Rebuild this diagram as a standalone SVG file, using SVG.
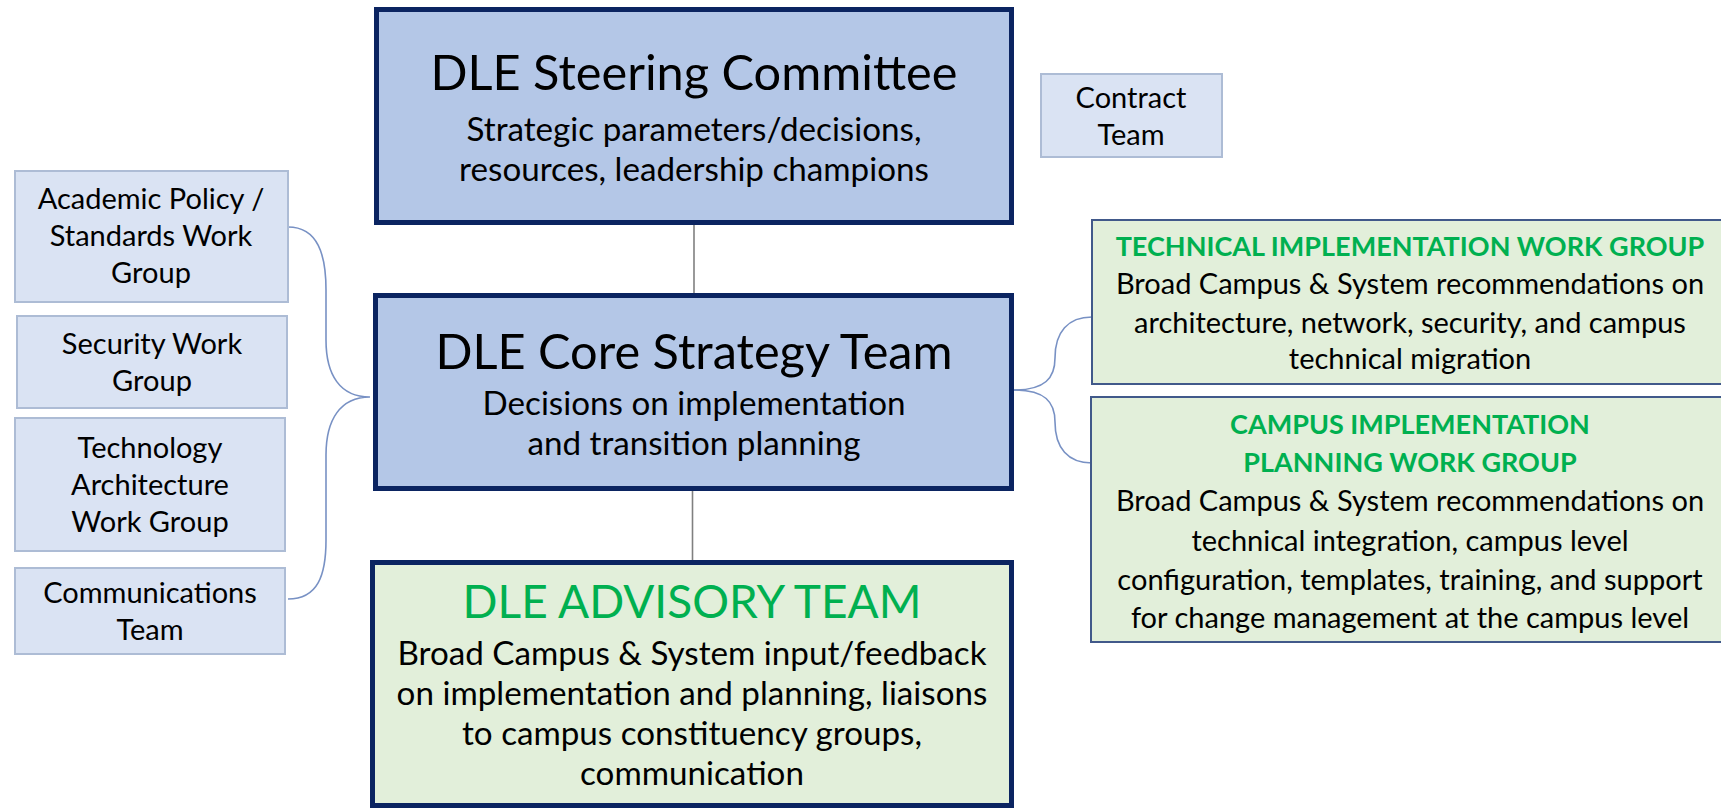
<svg xmlns="http://www.w3.org/2000/svg" width="1721" height="808" viewBox="0 0 1721 808">
  <style>
    text { font-family: Lato, "Open Sans", "Liberation Sans", sans-serif; text-anchor: middle; fill: #000; }
    .main { fill: #B4C7E7; stroke: #0B2461; stroke-width: 5; }
    .adv { fill: #E2EFDA; stroke: #0B2461; stroke-width: 5; }
    .side { fill: #DAE3F3; stroke: #ADBCD5; stroke-width: 2; }
    .grp { fill: #E2EFDA; stroke: #41598A; stroke-width: 2; }
    .title { font-size: 48.7px; }
    .caps { font-size: 46px; fill: #00B050; }
    .body { font-size: 33.2px; }
    .small { font-size: 29px; }
    .gtitle { font-size: 27px; font-weight: bold; fill: #00B050; }
    .trunk { stroke: #808080; stroke-width: 1.6; fill: none; }
    .brace { stroke: #7891C4; stroke-width: 1.6; fill: none; }
  </style>

  <!-- connectors -->
  <g id="connectors">
    <line class="trunk" x1="694" y1="225" x2="694" y2="293"/>
    <line class="trunk" x1="692.5" y1="491" x2="692.5" y2="560"/>
    <!-- left brace gathering the work groups -->
    <path class="brace" d="M288,227 C318,227 326,255 326,290 L326,340 C326,375 340,397 370,397 C340,397 326,420 326,455 L326,540 C326,575 318,599 288,599"/>
    <!-- right brace to the implementation groups -->
    <path class="brace" d="M1014,390 C1045,390 1055,378 1055,358 C1055,332 1068,317 1092,317"/>
    <path class="brace" d="M1014,390 C1045,390 1055,402 1055,422 C1055,448 1068,463 1092,463"/>
  </g>

  <!-- steering committee -->
  <g id="steering">
    <rect class="main" x="376.5" y="9.5" width="635" height="213"/>
    <text class="title" x="694" y="90">DLE Steering Committee</text>
    <text class="body" x="694" y="141">Strategic parameters/decisions,</text>
    <text class="body" x="694" y="181">resources, leadership champions</text>
  </g>

  <!-- contract team -->
  <g id="contract">
    <rect class="side" x="1041" y="74" width="181" height="83"/>
    <text class="small" x="1131" y="108">Contract</text>
    <text class="small" x="1131" y="145">Team</text>
  </g>

  <!-- core strategy team -->
  <g id="core">
    <rect class="main" x="375.5" y="295.5" width="636" height="193"/>
    <text class="title" x="694" y="369">DLE Core Strategy Team</text>
    <text class="body" x="694" y="415">Decisions on implementation</text>
    <text class="body" x="694" y="455">and transition planning</text>
  </g>

  <!-- advisory team -->
  <g id="advisory">
    <rect class="adv" x="372.5" y="562.5" width="639" height="243"/>
    <text class="caps" x="692" y="618">DLE ADVISORY TEAM</text>
    <text class="body" x="692" y="665">Broad Campus &amp; System input/feedback</text>
    <text class="body" x="692" y="705">on implementation and planning, liaisons</text>
    <text class="body" x="692" y="745">to campus constituency groups,</text>
    <text class="body" x="692" y="785">communication</text>
  </g>

  <!-- work groups on the left -->
  <g id="academic">
    <rect class="side" x="15" y="171" width="273" height="131"/>
    <text class="small" x="151" y="209">Academic Policy /</text>
    <text class="small" x="151" y="246">Standards Work</text>
    <text class="small" x="151" y="283">Group</text>
  </g>
  <g id="security">
    <rect class="side" x="17" y="316" width="270" height="92"/>
    <text class="small" x="152" y="354">Security Work</text>
    <text class="small" x="152" y="391">Group</text>
  </g>
  <g id="technology">
    <rect class="side" x="15" y="418" width="270" height="133"/>
    <text class="small" x="150" y="458">Technology</text>
    <text class="small" x="150" y="495">Architecture</text>
    <text class="small" x="150" y="532">Work Group</text>
  </g>
  <g id="communications">
    <rect class="side" x="15" y="568" width="270" height="86"/>
    <text class="small" x="150" y="603">Communications</text>
    <text class="small" x="150" y="640">Team</text>
  </g>

  <!-- implementation groups on the right -->
  <g id="technical">
    <rect class="grp" x="1092" y="220" width="640" height="164"/>
    <text class="gtitle" x="1410" y="256">TECHNICAL IMPLEMENTATION WORK GROUP</text>
    <text class="small" x="1410" y="294">Broad Campus &amp; System recommendations on</text>
    <text class="small" x="1410" y="333">architecture, network, security, and campus</text>
    <text class="small" x="1410" y="369">technical migration</text>
  </g>
  <g id="campus">
    <rect class="grp" x="1091" y="397" width="640" height="245"/>
    <text class="gtitle" x="1410" y="434">CAMPUS IMPLEMENTATION</text>
    <text class="gtitle" x="1410" y="472">PLANNING WORK GROUP</text>
    <text class="small" x="1410" y="511">Broad Campus &amp; System recommendations on</text>
    <text class="small" x="1410" y="551">technical integration, campus level</text>
    <text class="small" x="1410" y="590">configuration, templates, training, and support</text>
    <text class="small" x="1410" y="628">for change management at the campus level</text>
  </g>
</svg>
